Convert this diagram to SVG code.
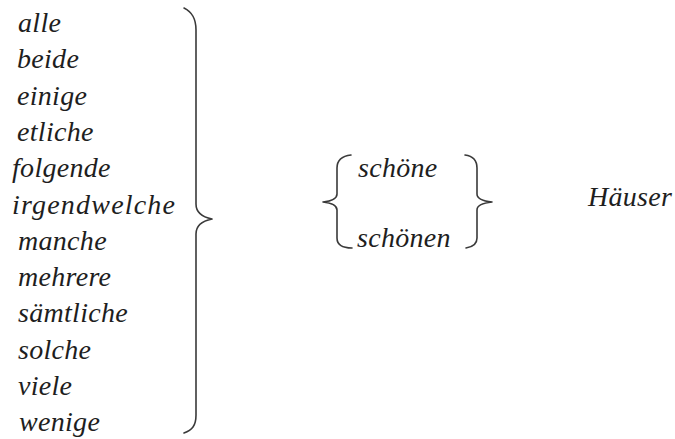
<svg xmlns="http://www.w3.org/2000/svg" width="675" height="439" viewBox="0 0 675 439">
<style>
.t{font-family:"Liberation Serif","Times New Roman",serif;font-style:italic;font-size:28px;fill:#1e1e1e;letter-spacing:0.3px}
.br{fill:none;stroke:#3a3a3a;stroke-width:1.6;stroke-linecap:round;stroke-linejoin:round}
</style>
<rect width="675" height="439" fill="#ffffff"/>
<g id="determiners">
<text class="t" x="18" y="32">alle</text>
<text class="t" x="17" y="68.3">beide</text>
<text class="t" x="17" y="104.6">einige</text>
<text class="t" x="17" y="140.9">etliche</text>
<text class="t" x="12" y="177.2">folgende</text>
<text class="t" x="12" y="213.5" style="letter-spacing:1.2px">irgendwelche</text>
<text class="t" x="18" y="249.8">manche</text>
<text class="t" x="18" y="286.1">mehrere</text>
<text class="t" x="18" y="322.4">sämtliche</text>
<text class="t" x="18" y="358.7">solche</text>
<text class="t" x="18" y="395">viele</text>
<text class="t" x="19" y="431.3">wenige</text>
</g>
<g id="adjectives">
<text class="t" x="358" y="177">schöne</text>
<text class="t" x="357" y="247">schönen</text>
</g>
<g id="noun">
<text class="t" x="588" y="206">Häuser</text>
</g>
<g id="connectors">
<path class="br" d="M184,8 C192,12 196,18 196,30 L196,204 C196,212 202,217 212,219 C202,221 196,226 196,234 L196,415 C196,426 192,430 184,433"/>
<path class="br" d="M351,155 C342,156 337,160 337,168 L337,194 C337,198 332,201 323,202 C332,203 337,206 337,210 L337,238 C337,245 342,248 352,248"/>
<path class="br" d="M465,155 C472,156 477,160 477,168 L477,194 C477,198 482,201 492,202 C482,203 477,206 477,210 L477,238 C477,244 473,247 466,248"/>
</g>
</svg>
